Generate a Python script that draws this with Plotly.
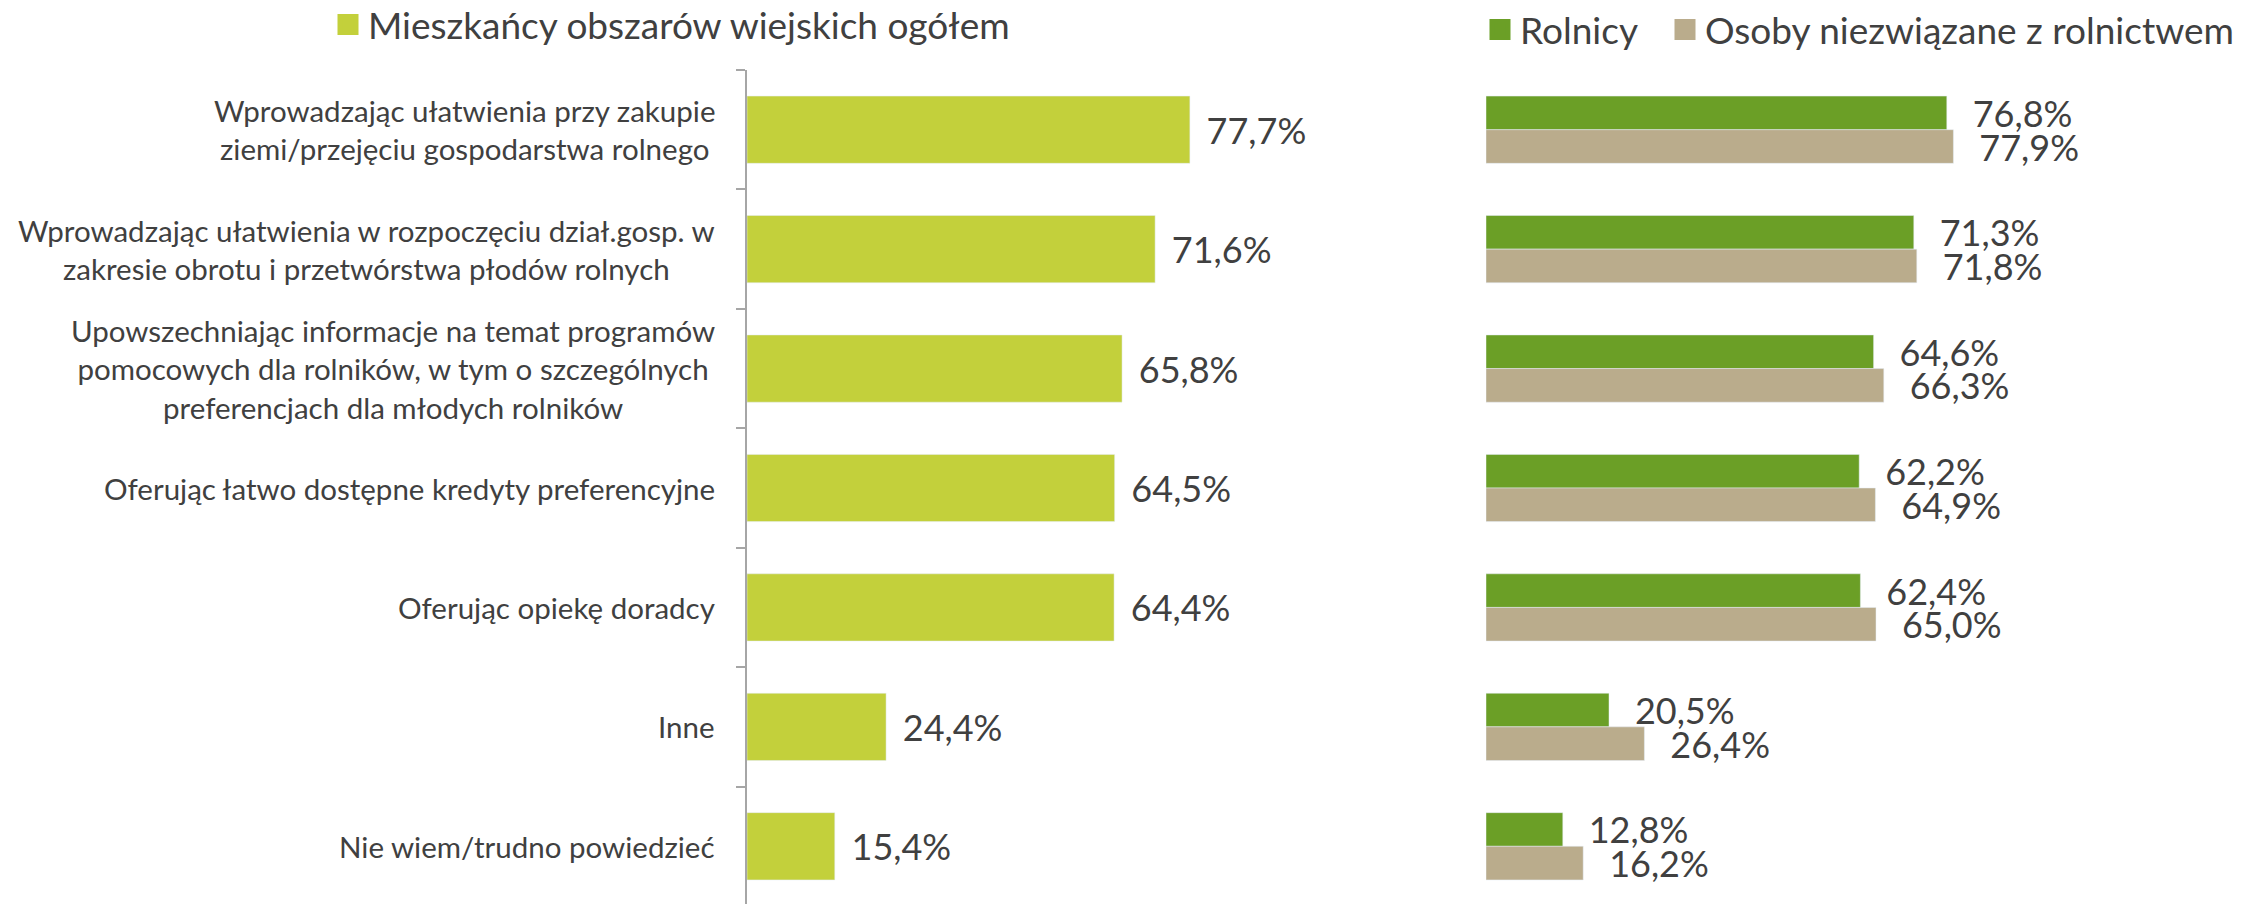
import plotly.graph_objects as go

## Dane
kategorie = [
    "Wprowadzając ułatwienia przy zakupie<br>ziemi/przejęciu gospodarstwa rolnego",
    "Wprowadzając ułatwienia w rozpoczęciu dział.gosp. w<br>zakresie obrotu i przetwórstwa płodów rolnych",
    "Upowszechniając informacje na temat programów<br>pomocowych dla rolników, w tym o szczególnych<br>preferencjach dla młodych rolników",
    "Oferując łatwo dostępne kredyty preferencyjne",
    "Oferując opiekę doradcy",
    "Inne",
    "Nie wiem/trudno powiedzieć",
]
ogolem = [77.7, 71.6, 65.8, 64.5, 64.4, 24.4, 15.4]
rolnicy = [76.8, 71.3, 64.6, 62.2, 62.4, 20.5, 12.8]
niezwiazani = [77.9, 71.8, 66.3, 64.9, 65.0, 26.4, 16.2]

serie = [
    # nazwa, kolor, legenda
    ("Mieszkańcy obszarów wiejskich ogółem", "#C3D03B", "legend"),
    ("Rolnicy", "#6B9F26", "legend2"),
    ("Osoby niezwiązane z rolnictwem", "#BAAC8C", "legend3"),
]

W, H = 2262, 904
OFF = 8  # margines <body> w przeglądarce
FONT = "Lato"
TXT = "#404040"
PAD_L = "\u00a0\u2009"  # odstęp etykiety od słupka
PAD_R = "\u00a0\u00a0\u2009"

fig = go.Figure()

## Słupki
fig.add_trace(go.Bar(
    y=kategorie, x=ogolem, orientation="h", name=serie[0][0],
    marker_color=serie[0][1], showlegend=False,
    texttemplate=PAD_L + "%{x:.1f}%", textposition="outside",
    constraintext="none", cliponaxis=False,
    textfont=dict(size=36, color=TXT, family=FONT),
    xaxis="x", yaxis="y",
))
for wart, (nazwa, kolor, _) in zip([rolnicy, niezwiazani], serie[1:]):
    fig.add_trace(go.Bar(
        y=kategorie, x=wart, orientation="h", name=nazwa,
        marker_color=kolor, showlegend=False,
        texttemplate=PAD_R + "%{x:.1f}%", textposition="outside",
        constraintext="none", cliponaxis=False,
        textfont=dict(size=36, color=TXT, family=FONT),
        xaxis="x2", yaxis="y2",
    ))

## Legendy (większe kwadraty niż domyślne dla słupków)
for nazwa, kolor, leg in serie:
    fig.add_trace(go.Scatter(
        x=[None], y=[None], mode="markers", name=nazwa, legend=leg,
        marker=dict(symbol="square", size=16, color=kolor,
                    line=dict(color=kolor, width=5)),
        xaxis="x", yaxis="y", hoverinfo="skip",
    ))

# etykiety kategorii (wyśrodkowane wiersze)
for k in kategorie:
    fig.add_annotation(
        x=(717 - OFF) / W, xref="paper", xanchor="right",
        y=k, yref="y", yanchor="middle",
        text=k, showarrow=False, align="center",
        font=dict(size=29.5, color=TXT, family=FONT),
    )

y_dom = [(OFF - 2) / H, 1 - (70 - OFF) / H]
leg_font = dict(size=37, color=TXT, family=FONT)
fig.update_layout(
    width=W, height=H,
    margin=dict(l=0, r=0, t=0, b=0, autoexpand=False),
    paper_bgcolor="white", plot_bgcolor="white",
    separators=",.",
    showlegend=True,
    barmode="group", bargap=0.437, bargroupgap=0,
    font=dict(family=FONT, color=TXT),
    xaxis=dict(domain=[(747 - OFF) / W, (747 - OFF + 80 * 5.70) / W],
               range=[0, 80], visible=False),
    xaxis2=dict(domain=[(1486 - OFF) / W, (1486 - OFF + 80 * 6.0) / W],
                range=[0, 80], visible=False),
    yaxis=dict(domain=y_dom, anchor="x", autorange="reversed",
               showline=True, linecolor="#A6A6A6", linewidth=1.5,
               ticks="outside", tickson="boundaries", ticklen=9,
               tickcolor="#A6A6A6", tickwidth=1.5,
               showticklabels=False, showgrid=False, zeroline=False),
    yaxis2=dict(domain=y_dom, anchor="x2", autorange="reversed",
                showline=False, showticklabels=False, showgrid=False,
                zeroline=False, ticks=""),
    legend=dict(x=(328 - OFF) / W, y=1 - (25 - OFF) / H,
                xanchor="left", yanchor="middle",
                font=leg_font, bgcolor="rgba(0,0,0,0)"),
    legend2=dict(x=(1480 - OFF) / W, y=1 - (30 - OFF) / H,
                 xanchor="left", yanchor="middle",
                 font=leg_font, bgcolor="rgba(0,0,0,0)"),
    legend3=dict(x=(1665 - OFF) / W, y=1 - (30 - OFF) / H,
                 xanchor="left", yanchor="middle",
                 font=leg_font, bgcolor="rgba(0,0,0,0)"),
)

fig.write_html("out.html")
